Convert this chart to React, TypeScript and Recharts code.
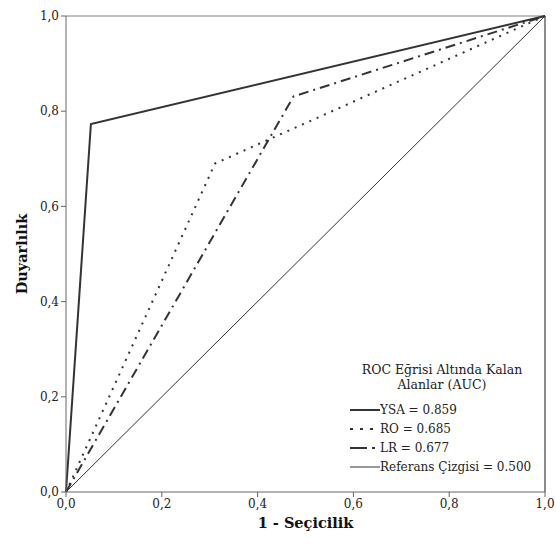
import React from "react";
import {
  LineChart,
  Line,
  XAxis,
  YAxis,
  ReferenceLine,
  Legend,
} from "recharts";

// ROC curve points (1 - specificity, sensitivity)
const ysaX = [0, 0.052, 1];
const ysaY = [0, 0.773, 1];
const roX = [0, 0.311, 1];
const roY = [0, 0.69, 1];
const lrX = [0, 0.475, 1];
const lrY = [0, 0.831, 1];
const refX = [0, 1];
const refY = [0, 1];

const axisTicks = [0, 0.2, 0.4, 0.6, 0.8, 1];

const legendTitle = ["ROC Eğrisi Altında Kalan", "Alanlar (AUC)"];
const legendLabels = [
  "YSA = 0.859",
  "RO = 0.685",
  "LR = 0.677",
  "Referans Çizgisi = 0.500",
];

const FONT = '"DejaVu Serif", serif';
const LINE_COLOR = "#333";

const toPoints = (xs: number[], ys: number[]) =>
  xs.map((x, i) => ({ x, y: ys[i] }));

const series = [
  { name: legendLabels[0], data: toPoints(ysaX, ysaY), width: 2, dash: undefined, legendDash: undefined },
  { name: legendLabels[1], data: toPoints(roX, roY), width: 2, dash: "2 6", legendDash: "3 7" },
  { name: legendLabels[2], data: toPoints(lrX, lrY), width: 2, dash: "10 5 2 5", legendDash: "17 5 3 5" },
  { name: legendLabels[3], data: toPoints(refX, refY), width: 1, dash: undefined, legendDash: undefined },
];

const fmt = (v: number) => v.toFixed(1).replace(".", ",");

function RocLegend() {
  return (
    <div style={{ fontFamily: FONT, fontSize: 12, color: "#222" }}>
      <div
        style={{
          textAlign: "center",
          fontSize: 12.5,
          lineHeight: "15px",
          marginBottom: 8,
          paddingRight: 10,
        }}
      >
        {legendTitle.map((t) => (
          <div key={t}>{t}</div>
        ))}
      </div>
      {series.map((s) => (
        <div key={s.name} style={{ display: "flex", alignItems: "center", height: 19 }}>
          <svg width={30} height={10} style={{ marginRight: 0 }}>
            <line
              x1={0}
              y1={5}
              x2={30}
              y2={5}
              stroke={LINE_COLOR}
              strokeWidth={s.width}
              strokeDasharray={s.legendDash}
            />
          </svg>
          <span>{s.name}</span>
        </div>
      ))}
    </div>
  );
}

export default function App() {
  return (
    <div style={{ position: "absolute", left: 0, top: 0 }}>
      <LineChart
        width={556}
        height={545}
        margin={{ top: 16, right: 11, bottom: 0, left: 0 }}
        style={{ fontFamily: FONT }}
      >
        <XAxis
          type="number"
          dataKey="x"
          domain={[0, 1]}
          ticks={axisTicks}
          tickFormatter={fmt}
          stroke="#666"
          tickSize={5}
          height={53}
          tick={{ fontFamily: FONT, fontSize: 12, fill: "#222" }}
          label={{
            value: "1 - Seçicilik",
            position: "insideBottom",
            offset: 17,
            style: { fontFamily: FONT, fontSize: 14.5, fontWeight: "bold", fill: "#111" },
          }}
        />
        <YAxis
          type="number"
          dataKey="y"
          domain={[0, 1]}
          ticks={axisTicks}
          tickFormatter={fmt}
          stroke="#666"
          tickSize={5}
          width={66}
          tick={{ fontFamily: FONT, fontSize: 12, fill: "#222" }}
          label={{
            value: "Duyarlılık",
            angle: -90,
            position: "insideLeft",
            offset: 22,
            style: {
              fontFamily: FONT,
              fontSize: 14.5,
              fontWeight: "bold",
              fill: "#111",
              textAnchor: "middle",
            },
          }}
        />
        <ReferenceLine y={1} stroke="#aaa" strokeWidth={1.5} />
        <ReferenceLine x={1} stroke="#666" strokeWidth={1.5} />
        {series.map((s) => (
          <Line
            key={s.name}
            name={s.name}
            data={s.data}
            dataKey="y"
            type="linear"
            stroke={LINE_COLOR}
            strokeWidth={s.width}
            strokeDasharray={s.dash}
            dot={false}
            activeDot={false}
            isAnimationActive={false}
          />
        ))}
        <Legend
          layout="vertical"
          align="center"
          verticalAlign="middle"
          content={() => <RocLegend />}
          wrapperStyle={{ left: 350, top: 362, width: 194, height: "auto" }}
        />
      </LineChart>
    </div>
  );
}
